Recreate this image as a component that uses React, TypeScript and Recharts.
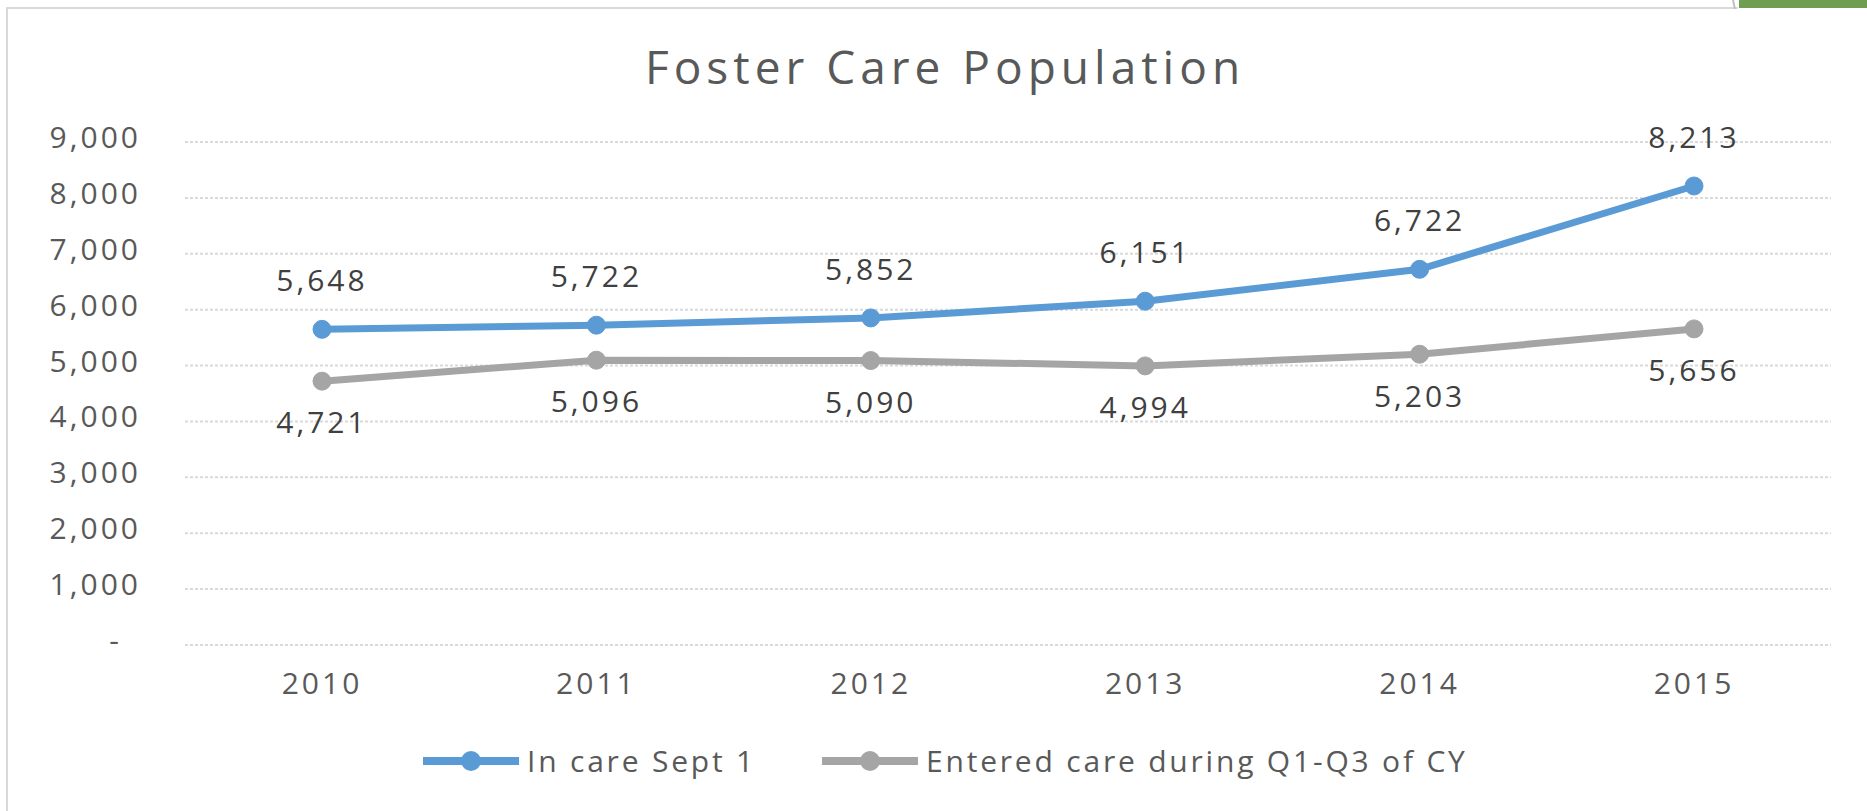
import { LineChart, Line, XAxis, YAxis, CartesianGrid, LabelList } from "recharts"

// values
const years = ["2010", "2011", "2012", "2013", "2014", "2015"]
const inCareSept1 = [5648, 5722, 5852, 6151, 6722, 8213]
const enteredCare = [4721, 5096, 5090, 4994, 5203, 5656]
const yTicks = [0, 1000, 2000, 3000, 4000, 5000, 6000, 7000, 8000, 9000]

const seriesNames = ["In care Sept 1", "Entered care during Q1-Q3 of CY"]
const BLUE = "#5B9BD5"
const GRAY = "#A5A5A5"
const TEXT = "#595959"
const FONT = "'Open Sans', sans-serif"

const data = years.map((year, i) => ({
  year,
  inCare: inCareSept1[i],
  entered: enteredCare[i],
}))

const fmt = (v: number) => v.toLocaleString("en-US")

function YTick(props: any) {
  const { x, y, payload } = props
  const v = payload.value
  // Excel accounting format shows zero as a dash
  if (v === 0) {
    return (
      <text x={x - 24} y={y} dy={6} textAnchor="middle" fill={TEXT} fontSize={30} fontFamily={FONT}>
        -
      </text>
    )
  }
  return (
    <text x={x + 3} y={y} dy={6} textAnchor="end" fill={TEXT} fontSize={30} fontFamily={FONT} letterSpacing={3}>
      {fmt(v)}
    </text>
  )
}

function LegendItem({ color, label }: { color: string; label: string }) {
  return (
    <div style={{ display: "flex", alignItems: "center" }}>
      <svg width={100} height={24} style={{ display: "block" }}>
        <line x1={2} y1={12} x2={98} y2={12} stroke={color} strokeWidth={8} />
        <circle cx={50} cy={12} r={10} fill={color} />
      </svg>
      <span style={{ marginLeft: 6, fontSize: 30, letterSpacing: 2.8, color: TEXT, fontFamily: FONT, lineHeight: "24px" }}>
        {label}
      </span>
    </div>
  )
}

export default function App() {
  return (
    <div style={{ position: "absolute", left: 0, top: 0, width: 1867, height: 811, background: "#fff", overflow: "hidden" }}>
      {/* chart frame, cut off at right and bottom */}
      <div style={{ position: "absolute", left: 6, top: 7, width: 1730, height: 820, borderTop: "2px solid #D9D9D9", borderLeft: "2px solid #D9D9D9" }} />
      <div style={{ position: "absolute", left: 1733, top: 0, width: 2, height: 9, background: "#BFBFBF", transform: "skewX(12deg)" }} />
      <div style={{ position: "absolute", left: 1739, top: 0, width: 128, height: 8, background: "#6F9D51" }} />

      <div
        style={{
          position: "absolute",
          left: 0,
          width: 1890,
          top: 38,
          textAlign: "center",
          fontFamily: FONT,
          fontWeight: 400,
          fontSize: 46,
          letterSpacing: 5,
          color: TEXT,
          lineHeight: "56px",
        }}
      >
        Foster Care Population
      </div>

      <div style={{ position: "absolute", left: 0, top: 0 }}>
        <LineChart width={1867} height={811} data={data} margin={{ top: 142, right: 36, bottom: 106, left: 85 }}>
          <CartesianGrid vertical={false} stroke="#D9D9D9" strokeWidth={2} strokeDasharray="3 2" />
          <XAxis
            dataKey="year"
            height={60}
            axisLine={false}
            tickLine={false}
            tickSize={0}
            tickMargin={28}
            padding={{ left: 137, right: 137 }}
            tick={{ fill: TEXT, fontSize: 30, fontFamily: FONT, letterSpacing: 3 }}
          />
          <YAxis
            width={100}
            domain={[0, 9000]}
            ticks={yTicks}
            interval={0}
            axisLine={false}
            tickLine={false}
            tickSize={0}
            tickMargin={47}
            tick={<YTick />}
          />
          <Line
            dataKey="inCare"
            name={seriesNames[0]}
            type="linear"
            stroke={BLUE}
            strokeWidth={7}
            dot={{ r: 9, fill: BLUE, stroke: BLUE, strokeWidth: 1 }}
            isAnimationActive={false}
          >
            <LabelList
              dataKey="inCare"
              position="top"
              offset={38}
              formatter={(v: any) => fmt(v)}
              fill="#404040"
              fontSize={30}
              fontFamily={FONT}
              letterSpacing={3}
            />
          </Line>
          <Line
            dataKey="entered"
            name={seriesNames[1]}
            type="linear"
            stroke={GRAY}
            strokeWidth={7}
            dot={{ r: 9, fill: GRAY, stroke: GRAY, strokeWidth: 1 }}
            isAnimationActive={false}
          >
            <LabelList
              dataKey="entered"
              position="bottom"
              offset={31}
              formatter={(v: any) => fmt(v)}
              fill="#404040"
              fontSize={30}
              fontFamily={FONT}
              letterSpacing={3}
            />
          </Line>
        </LineChart>
      </div>

      <div style={{ position: "absolute", left: 421, top: 749, display: "flex", gap: 64 }}>
        <LegendItem color={BLUE} label={seriesNames[0]} />
        <LegendItem color={GRAY} label={seriesNames[1]} />
      </div>
    </div>
  )
}
